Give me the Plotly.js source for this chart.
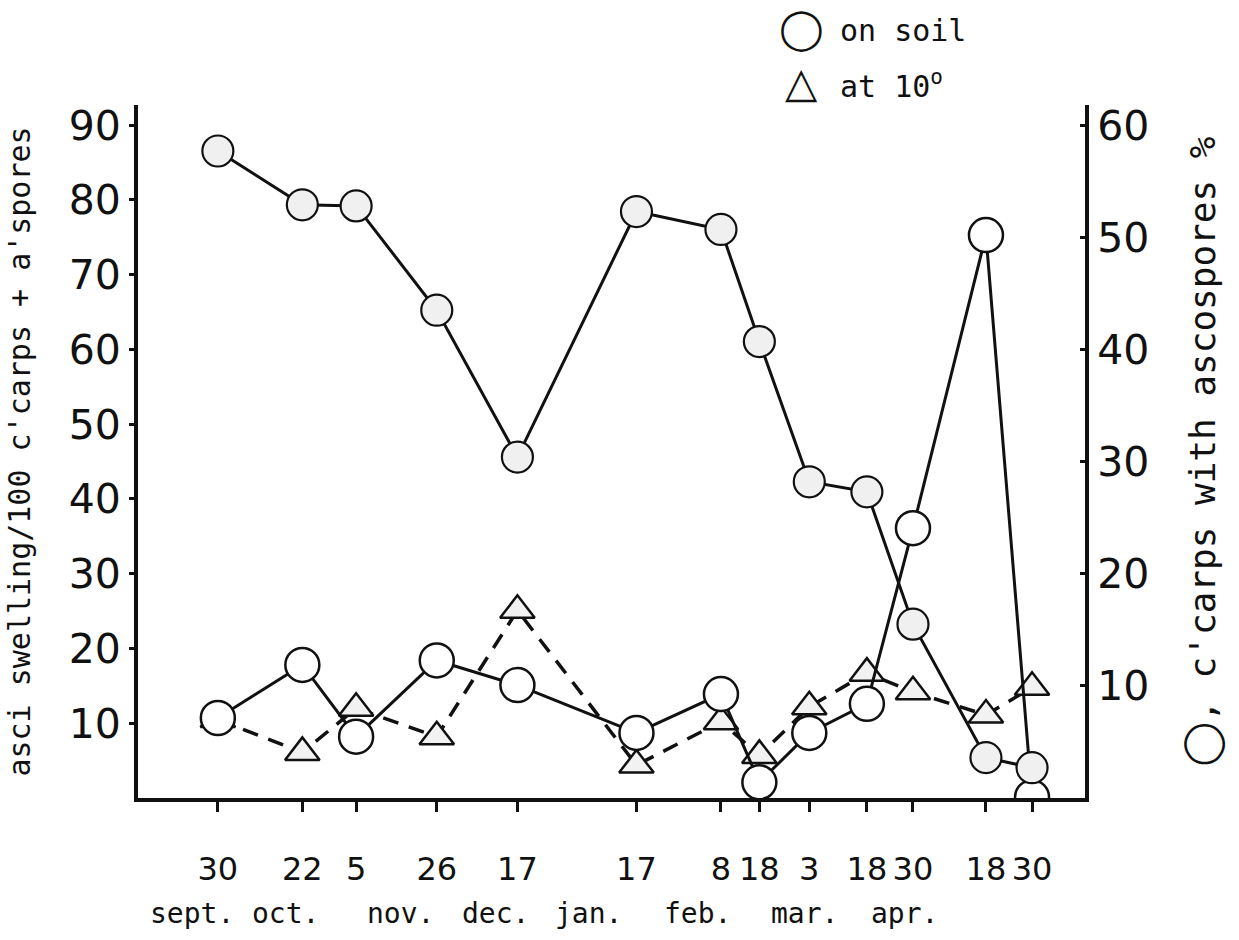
<!DOCTYPE html>
<html>
<head>
<meta charset="utf-8">
<script src="https://cdn.plot.ly/plotly-3.0.1.min.js"></script>
<style>html,body{margin:0;padding:0;background:#fff;}#chart{width:1239px;height:940px;}</style>
</head>
<body>
<div id="chart"></div>
<script>
// Sampling dates (Sept 30 to Apr 30)
const dates = ['1950-09-30','1950-10-22','1950-11-05','1950-11-26','1950-12-17','1951-01-17','1951-02-08','1951-02-18','1951-03-03','1951-03-18','1951-03-30','1951-04-18','1951-04-30'];
const dayLabels = ['30','22','5','26','17','17','8','18','3','18','30','18','30'];
const monthLabels = ['sept.','oct.','nov.','dec.','jan.','feb.','mar.','apr.'];
// asci swelling / 100 c'carps + a'spores
const onSoil = [10.7, 17.8, 8.2, 18.4, 15.1, 8.7, 13.9, 2.1, 8.7, 12.6, 36.1, 75.3, 0.1];
const at10 = [10.5, 6.1, 12.0, 8.2, 25.1, 4.4, 10.2, 5.7, 12.2, 16.7, 14.2, 11.1, 14.8];
// c'carps with ascospores %
const ascosporesPct = [57.7, 52.9, 52.8, 43.5, 30.4, 52.3, 50.7, 40.7, 28.2, 27.3, 15.5, 3.6, 2.7];
const leftTicks = [10,20,30,40,50,60,70,80,90];
const rightTicks = [10,20,30,40,50,60];

const FONT = 'DejaVu Sans, sans-serif';
const MONO = 'DejaVu Sans Mono, monospace';
const INK = '#111';

const traces = [
  {
    x: dates, y: at10, type: 'scatter', mode: 'lines+markers', name: 'at 10°',
    line: {color: INK, width: 3.5, dash: '16px,11px'},
    marker: {symbol: 'triangle-up', size: 30, color: '#f2f2f2', line: {color: INK, width: 2.5}},
    yaxis: 'y'
  },
  {
    x: dates, y: onSoil, type: 'scatter', mode: 'lines+markers', name: 'on soil',
    line: {color: INK, width: 3},
    marker: {symbol: 'circle', size: 34, color: '#fff', line: {color: INK, width: 2.5}},
    yaxis: 'y'
  },
  {
    x: dates, y: ascosporesPct, type: 'scatter', mode: 'lines+markers', name: "c'carps with ascospores %",
    line: {color: INK, width: 3},
    marker: {symbol: 'circle', size: 31, color: '#f0f0f0', line: {color: INK, width: 2.2}},
    yaxis: 'y2'
  }
];

const annotations = [];
const monthPos = [0.0570, 0.1553, 0.2767, 0.3770, 0.4752, 0.5903, 0.7043, 0.8099];
monthLabels.forEach((m, i) => {
  annotations.push({text: m, xref: 'paper', yref: 'paper', x: monthPos[i], y: -0.166,
    xanchor: 'center', yanchor: 'middle', showarrow: false, font: {family: MONO, size: 28, color: INK}});
});
// legend
annotations.push({text: '◯', xref: 'paper', yref: 'paper', x: 0.701, y: 1.111, xanchor: 'center', yanchor: 'middle', showarrow: false, font: {family: FONT, size: 40, color: INK}});
annotations.push({text: 'on soil', xref: 'paper', yref: 'paper', x: 0.7392, y: 1.108, xanchor: 'left', yanchor: 'middle', showarrow: false, font: {family: MONO, size: 30, color: INK}});
annotations.push({text: '△', xref: 'paper', yref: 'paper', x: 0.701, y: 1.033, xanchor: 'center', yanchor: 'middle', showarrow: false, font: {family: FONT, size: 42, color: INK}});
annotations.push({text: 'at 10<sup>o</sup>', xref: 'paper', yref: 'paper', x: 0.7392, y: 1.029, xanchor: 'left', yanchor: 'middle', showarrow: false, font: {family: MONO, size: 30, color: INK}});

const layout = {
  width: 1239, height: 940,
  margin: {l: 138, r: 154, t: 105, b: 142},
  paper_bgcolor: '#fff', plot_bgcolor: '#fff',
  showlegend: false,
  font: {family: FONT, color: INK},
  xaxis: {
    type: 'date',
    range: ['1950-09-09 05:00', '1951-05-13 19:00'],
    tickvals: dates, ticktext: dayLabels, tickangle: 0,
    ticks: 'outside', ticklen: 10, tickwidth: 3, tickcolor: INK,
    ticklabelstandoff: 30,
    tickfont: {family: FONT, size: 32, color: INK},
    showline: true, linewidth: 4, linecolor: INK,
    showgrid: false, zeroline: false
  },
  yaxis: {
    range: [0, 92.7],
    tickvals: leftTicks, ticktext: leftTicks.map(String),
    ticks: 'outside', ticklen: 5, tickwidth: 3, tickcolor: INK,
    tickfont: {family: FONT, size: 41, color: INK},
    showline: true, linewidth: 4, linecolor: INK,
    showgrid: false, zeroline: false,
    title: {text: "asci swelling/100 c'carps + a'spores", font: {family: MONO, size: 30, color: INK}, standoff: 30}
  },
  yaxis2: {
    overlaying: 'y', side: 'right',
    range: [0, 61.8],
    tickvals: rightTicks, ticktext: rightTicks.map(String),
    ticks: 'inside', ticklen: 5, tickwidth: 3, tickcolor: INK,
    tickfont: {family: FONT, size: 41, color: INK},
    showline: true, linewidth: 4, linecolor: INK,
    showgrid: false, zeroline: false,
    title: {text: "<span style=\"font-family:'DejaVu Sans';font-size:40px\">◯</span>, c'carps with ascospores %", font: {family: MONO, size: 36, color: INK}, standoff: 42}
  },
  annotations: annotations
};

Plotly.newPlot('chart', traces, layout, {displayModeBar: false, staticPlot: true});
</script>
</body>
</html>
